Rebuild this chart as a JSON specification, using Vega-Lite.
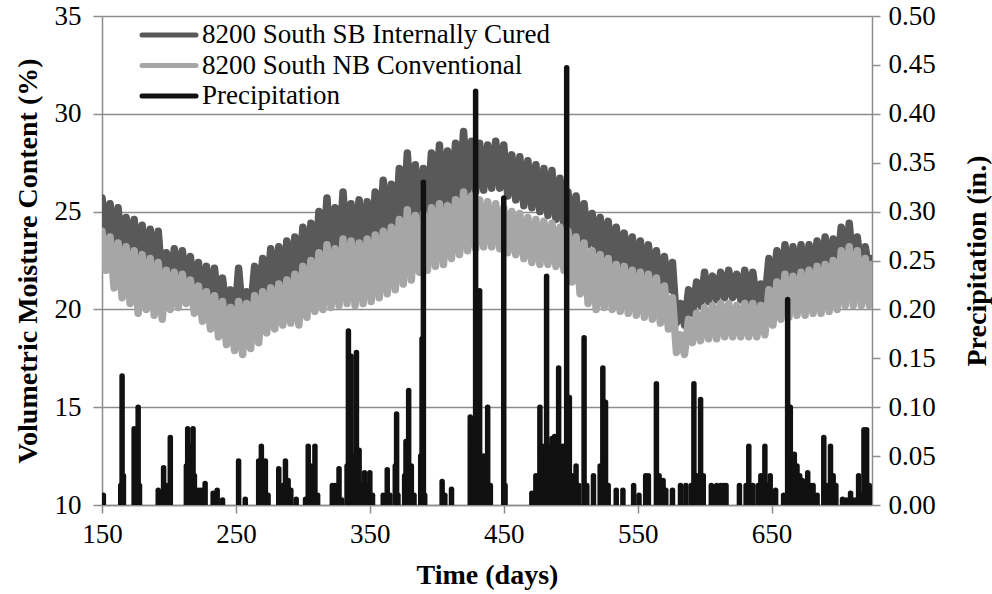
{
  "$schema": "https://vega.github.io/schema/vega-lite/v6.json",
  "width": 770,
  "height": 489,
  "autosize": {"type": "none"},
  "padding": {"left": 102, "top": 16, "right": 120, "bottom": 89},
  "background": "white",
  "config": {
    "view": {"stroke": null},
    "font": "Liberation Serif",
    "text": {"font": "Liberation Serif"},
    "style": {"guide-label": {"font": "Liberation Serif"}, "guide-title": {"font": "Liberation Serif"}},
    "axis": {"labelFont": "Liberation Serif", "titleFont": "Liberation Serif", "labelColor": "black", "titleColor": "black", "labelFontSize": 27, "titleFontSize": 28, "titleFontWeight": "bold", "domainColor": "#8c8c8c", "tickColor": "#8c8c8c", "gridColor": "#8c8c8c", "domainWidth": 1.5, "tickWidth": 1.5, "gridWidth": 1.5},
    "legend": {"labelFont": "Liberation Serif", "labelFontSize": 27, "labelColor": "black", "titleFont": "Liberation Serif"}
  },
  "datasets": {
    "moisture": [
      {"d":150,"sb":25.7,"nb":24.0},{"d":153,"sb":23.8,"nb":22.0},{"d":156,"sb":25.4,"nb":23.7},{"d":159,"sb":23.4,"nb":21.1},{"d":162,"sb":25.2,"nb":23.4},{"d":165,"sb":23.0,"nb":20.6},{"d":168,"sb":24.7,"nb":23.2},{"d":171,"sb":22.8,"nb":20.3},{"d":174,"sb":24.6,"nb":23.0},{"d":177,"sb":22.4,"nb":19.8},
      {"d":180,"sb":24.3,"nb":22.8},{"d":183,"sb":22.3,"nb":20.0},{"d":186,"sb":24.1,"nb":22.6},{"d":189,"sb":22.0,"nb":19.7},{"d":192,"sb":24.0,"nb":22.4},{"d":195,"sb":21.3,"nb":19.5},{"d":198,"sb":22.9,"nb":22.0},{"d":201,"sb":21.2,"nb":20.0},{"d":204,"sb":23.1,"nb":21.9},{"d":207,"sb":21.3,"nb":20.1},
      {"d":210,"sb":23.0,"nb":21.8},{"d":213,"sb":21.2,"nb":20.3},{"d":216,"sb":22.7,"nb":21.5},{"d":219,"sb":20.9,"nb":19.8},{"d":222,"sb":22.4,"nb":21.2},{"d":225,"sb":20.6,"nb":19.4},{"d":228,"sb":22.2,"nb":20.9},{"d":231,"sb":20.4,"nb":19.0},{"d":234,"sb":22.1,"nb":20.7},{"d":237,"sb":20.0,"nb":18.6},
      {"d":240,"sb":21.6,"nb":20.4},{"d":243,"sb":19.8,"nb":18.2},{"d":246,"sb":21.0,"nb":20.1},{"d":249,"sb":19.4,"nb":17.9},{"d":252,"sb":22.1,"nb":20.4},{"d":255,"sb":19.7,"nb":17.7},{"d":258,"sb":20.9,"nb":20.3},{"d":261,"sb":20.0,"nb":18.0},{"d":264,"sb":22.2,"nb":20.7},{"d":267,"sb":20.3,"nb":18.3},
      {"d":270,"sb":22.6,"nb":20.9},{"d":273,"sb":20.6,"nb":18.8},{"d":276,"sb":23.1,"nb":21.1},{"d":279,"sb":20.9,"nb":19.0},{"d":282,"sb":23.2,"nb":21.3},{"d":285,"sb":21.0,"nb":19.2},{"d":288,"sb":23.5,"nb":21.5},{"d":291,"sb":21.2,"nb":19.3},{"d":294,"sb":23.7,"nb":21.8},{"d":297,"sb":21.3,"nb":19.2},
      {"d":300,"sb":24.2,"nb":22.2},{"d":303,"sb":21.6,"nb":19.6},{"d":306,"sb":24.4,"nb":22.5},{"d":309,"sb":21.9,"nb":19.9},{"d":312,"sb":25.0,"nb":22.9},{"d":315,"sb":22.3,"nb":20.0},{"d":318,"sb":25.7,"nb":23.3},{"d":321,"sb":22.5,"nb":20.1},{"d":324,"sb":25.2,"nb":23.1},{"d":327,"sb":22.6,"nb":20.2},
      {"d":330,"sb":26.0,"nb":23.6},{"d":333,"sb":22.9,"nb":20.3},{"d":336,"sb":25.4,"nb":23.5},{"d":339,"sb":23.0,"nb":20.2},{"d":342,"sb":25.6,"nb":23.4},{"d":345,"sb":22.6,"nb":20.3},{"d":348,"sb":25.5,"nb":23.6},{"d":351,"sb":22.5,"nb":20.4},{"d":354,"sb":26.0,"nb":23.8},{"d":357,"sb":23.0,"nb":20.6},
      {"d":360,"sb":26.6,"nb":24.0},{"d":363,"sb":23.4,"nb":20.8},{"d":366,"sb":26.4,"nb":24.2},{"d":369,"sb":23.6,"nb":21.0},{"d":372,"sb":27.2,"nb":24.6},{"d":375,"sb":24.2,"nb":21.3},{"d":378,"sb":28.0,"nb":25.1},{"d":381,"sb":24.4,"nb":21.5},{"d":384,"sb":27.4,"nb":24.8},{"d":387,"sb":24.5,"nb":21.9},
      {"d":390,"sb":27.2,"nb":24.9},{"d":393,"sb":24.8,"nb":22.0},{"d":396,"sb":28.0,"nb":25.2},{"d":399,"sb":25.1,"nb":22.2},{"d":402,"sb":28.4,"nb":25.4},{"d":405,"sb":25.3,"nb":22.3},{"d":408,"sb":28.1,"nb":25.3},{"d":411,"sb":25.5,"nb":22.6},{"d":414,"sb":28.5,"nb":25.6},{"d":417,"sb":25.8,"nb":22.8},
      {"d":420,"sb":29.1,"nb":26.0},{"d":423,"sb":26.0,"nb":23.0},{"d":426,"sb":28.6,"nb":25.8},{"d":429,"sb":26.0,"nb":23.1},{"d":432,"sb":28.5,"nb":25.6},{"d":435,"sb":26.1,"nb":23.2},{"d":438,"sb":28.4,"nb":25.5},{"d":441,"sb":26.2,"nb":23.2},{"d":444,"sb":28.6,"nb":25.4},{"d":447,"sb":26.2,"nb":23.1},
      {"d":450,"sb":28.4,"nb":25.2},{"d":453,"sb":25.8,"nb":22.9},{"d":456,"sb":27.9,"nb":25.0},{"d":459,"sb":25.6,"nb":22.8},{"d":462,"sb":27.8,"nb":24.9},{"d":465,"sb":25.3,"nb":22.6},{"d":468,"sb":27.6,"nb":24.7},{"d":471,"sb":25.2,"nb":22.4},{"d":474,"sb":27.4,"nb":24.6},{"d":477,"sb":25.0,"nb":22.3},
      {"d":480,"sb":27.2,"nb":24.5},{"d":483,"sb":24.8,"nb":22.3},{"d":486,"sb":27.1,"nb":24.4},{"d":489,"sb":24.6,"nb":22.2},{"d":492,"sb":26.7,"nb":24.2},{"d":495,"sb":24.2,"nb":22.0},{"d":498,"sb":26.0,"nb":24.0},{"d":501,"sb":23.8,"nb":21.4},{"d":504,"sb":25.8,"nb":23.7},{"d":507,"sb":23.5,"nb":20.8},
      {"d":510,"sb":25.4,"nb":23.4},{"d":513,"sb":23.3,"nb":20.3},{"d":516,"sb":24.9,"nb":23.0},{"d":519,"sb":23.0,"nb":20.0},{"d":522,"sb":24.7,"nb":22.8},{"d":525,"sb":22.8,"nb":20.1},{"d":528,"sb":24.5,"nb":22.6},{"d":531,"sb":22.5,"nb":20.0},{"d":534,"sb":24.2,"nb":22.3},{"d":537,"sb":22.3,"nb":19.9},
      {"d":540,"sb":23.9,"nb":22.2},{"d":543,"sb":22.0,"nb":19.8},{"d":546,"sb":23.7,"nb":22.0},{"d":549,"sb":21.8,"nb":19.7},{"d":552,"sb":23.5,"nb":21.9},{"d":555,"sb":21.6,"nb":19.6},{"d":558,"sb":23.3,"nb":21.8},{"d":561,"sb":21.5,"nb":19.5},{"d":564,"sb":23.0,"nb":21.6},{"d":567,"sb":21.2,"nb":19.3},
      {"d":570,"sb":22.7,"nb":21.2},{"d":573,"sb":21.0,"nb":19.0},{"d":576,"sb":22.4,"nb":20.6},{"d":579,"sb":19.3,"nb":17.8},{"d":582,"sb":20.3,"nb":18.7},{"d":585,"sb":19.2,"nb":17.7},{"d":588,"sb":21.0,"nb":19.5},{"d":591,"sb":19.8,"nb":18.3},{"d":594,"sb":21.4,"nb":19.8},{"d":597,"sb":20.2,"nb":18.4},
      {"d":600,"sb":21.9,"nb":20.1},{"d":603,"sb":20.4,"nb":18.5},{"d":606,"sb":21.7,"nb":20.2},{"d":609,"sb":20.5,"nb":18.5},{"d":612,"sb":21.9,"nb":20.3},{"d":615,"sb":20.6,"nb":18.6},{"d":618,"sb":22.0,"nb":20.3},{"d":621,"sb":20.6,"nb":18.6},{"d":624,"sb":21.8,"nb":20.2},{"d":627,"sb":20.5,"nb":18.6},
      {"d":630,"sb":22.0,"nb":20.3},{"d":633,"sb":20.4,"nb":18.6},{"d":636,"sb":21.9,"nb":20.3},{"d":639,"sb":20.3,"nb":18.6},{"d":642,"sb":21.3,"nb":20.2},{"d":645,"sb":20.4,"nb":18.7},{"d":648,"sb":22.6,"nb":21.0},{"d":651,"sb":20.9,"nb":19.2},{"d":654,"sb":23.0,"nb":21.4},{"d":657,"sb":21.2,"nb":19.5},
      {"d":660,"sb":23.3,"nb":21.8},{"d":663,"sb":21.3,"nb":19.6},{"d":666,"sb":23.2,"nb":21.7},{"d":669,"sb":21.4,"nb":19.7},{"d":672,"sb":23.3,"nb":21.9},{"d":675,"sb":21.4,"nb":19.7},{"d":678,"sb":23.3,"nb":22.0},{"d":681,"sb":21.5,"nb":19.8},{"d":684,"sb":23.5,"nb":22.2},{"d":687,"sb":21.7,"nb":19.8},
      {"d":690,"sb":23.7,"nb":22.3},{"d":693,"sb":21.8,"nb":19.9},{"d":696,"sb":23.6,"nb":22.5},{"d":699,"sb":22.0,"nb":20.0},{"d":702,"sb":24.2,"nb":23.0},{"d":705,"sb":22.1,"nb":20.2},{"d":708,"sb":24.4,"nb":23.2},{"d":711,"sb":22.0,"nb":20.2},{"d":714,"sb":23.7,"nb":23.0},{"d":717,"sb":21.9,"nb":20.2},
      {"d":720,"sb":23.2,"nb":22.6},{"d":723,"sb":21.8,"nb":20.2},{"d":725,"sb":22.6,"nb":22.3}
    ],
    "precip": [
      {"d":151,"p":0.01},{"d":164,"p":0.02},{"d":165,"p":0.132},{"d":166,"p":0.03},{"d":174,"p":0.078},{"d":175,"p":0.03},{"d":177,"p":0.10},{"d":178,"p":0.02},
      {"d":192,"p":0.015},{"d":196,"p":0.038},{"d":198,"p":0.02},{"d":201,"p":0.069},{"d":213,"p":0.04},{"d":214,"p":0.078},{"d":216,"p":0.06},{"d":218,"p":0.078},{"d":219,"p":0.03},
      {"d":222,"p":0.015},{"d":224,"p":0.015},{"d":227,"p":0.022},{"d":233,"p":0.012},{"d":236,"p":0.015},{"d":240,"p":0.005},{"d":252,"p":0.045},{"d":257,"p":0.006},
      {"d":267,"p":0.045},{"d":269,"p":0.06},{"d":272,"p":0.045},{"d":274,"p":0.01},{"d":282,"p":0.037},{"d":285,"p":0.02},{"d":287,"p":0.045},{"d":289,"p":0.025},{"d":291,"p":0.015},{"d":295,"p":0.006},
      {"d":302,"p":0.006},{"d":304,"p":0.06},{"d":306,"p":0.04},{"d":309,"p":0.06},{"d":311,"p":0.01},{"d":322,"p":0.02},{"d":324,"p":0.02},{"d":327,"p":0.037},{"d":329,"p":0.005},
      {"d":333,"p":0.04},{"d":334,"p":0.178},{"d":336,"p":0.152},{"d":338,"p":0.05},{"d":340,"p":0.156},{"d":342,"p":0.056},{"d":344,"p":0.02},{"d":346,"p":0.033},{"d":348,"p":0.02},{"d":350,"p":0.033},{"d":352,"p":0.01},
      {"d":360,"p":0.01},{"d":363,"p":0.036},{"d":365,"p":0.01},{"d":369,"p":0.04},{"d":370,"p":0.093},{"d":371,"p":0.01},{"d":376,"p":0.03},{"d":377,"p":0.065},{"d":379,"p":0.117},{"d":381,"p":0.04},{"d":383,"p":0.01},
      {"d":388,"p":0.05},{"d":389,"p":0.17},{"d":390,"p":0.33},{"d":391,"p":0.01},{"d":404,"p":0.024},{"d":406,"p":0.01},{"d":411,"p":0.016},
      {"d":425,"p":0.09},{"d":427,"p":0.06},{"d":429,"p":0.423},{"d":431,"p":0.05},{"d":432,"p":0.219},{"d":434,"p":0.04},{"d":435,"p":0.05},{"d":438,"p":0.10},{"d":440,"p":0.02},
      {"d":450,"p":0.314},{"d":451,"p":0.02},{"d":471,"p":0.012},{"d":474,"p":0.03},{"d":477,"p":0.10},{"d":479,"p":0.06},{"d":481,"p":0.05},{"d":482,"p":0.234},{"d":484,"p":0.06},{"d":486,"p":0.068},{"d":488,"p":0.07},{"d":490,"p":0.04},
      {"d":491,"p":0.14},{"d":493,"p":0.05},{"d":494,"p":0.06},{"d":495,"p":0.03},{"d":497,"p":0.447},{"d":499,"p":0.11},{"d":501,"p":0.03},{"d":504,"p":0.04},{"d":506,"p":0.02},
      {"d":510,"p":0.171},{"d":512,"p":0.02},{"d":517,"p":0.03},{"d":522,"p":0.04},{"d":524,"p":0.14},{"d":526,"p":0.105},{"d":528,"p":0.02},
      {"d":534,"p":0.015},{"d":539,"p":0.015},{"d":547,"p":0.02},{"d":551,"p":0.01},{"d":556,"p":0.03},{"d":558,"p":0.03},{"d":564,"p":0.124},{"d":566,"p":0.03},{"d":569,"p":0.025},{"d":571,"p":0.015},
      {"d":576,"p":0.015},{"d":582,"p":0.02},{"d":586,"p":0.02},{"d":590,"p":0.02},{"d":592,"p":0.124},{"d":594,"p":0.03},{"d":597,"p":0.108},{"d":599,"p":0.03},
      {"d":605,"p":0.02},{"d":609,"p":0.02},{"d":612,"p":0.02},{"d":614,"p":0.02},{"d":616,"p":0.02},{"d":626,"p":0.02},{"d":631,"p":0.02},{"d":633,"p":0.06},{"d":636,"p":0.02},{"d":640,"p":0.02},{"d":642,"p":0.03},{"d":645,"p":0.06},{"d":647,"p":0.02},{"d":649,"p":0.03},{"d":653,"p":0.015},
      {"d":659,"p":0.01},{"d":662,"p":0.21},{"d":664,"p":0.10},{"d":666,"p":0.03},{"d":667,"p":0.052},{"d":669,"p":0.04},{"d":671,"p":0.03},{"d":673,"p":0.025},{"d":675,"p":0.01},{"d":677,"p":0.033},{"d":679,"p":0.02},{"d":681,"p":0.02},
      {"d":684,"p":0.01},{"d":689,"p":0.069},{"d":691,"p":0.02},{"d":694,"p":0.06},{"d":696,"p":0.03},{"d":698,"p":0.02},{"d":703,"p":0.006},{"d":706,"p":0.005},{"d":709,"p":0.012},{"d":712,"p":0.005},{"d":715,"p":0.03},{"d":717,"p":0.01},{"d":719,"p":0.077},{"d":721,"p":0.077},{"d":723,"p":0.02}
    ]
  },
  "encoding": {
    "x": {"field": "d", "type": "quantitative", "scale": {"domain": [150, 725], "nice": false, "zero": false},
      "axis": {"title": "Time (days)", "values": [150, 250, 350, 450, 550, 650], "grid": false, "tickSize": 8, "labelPadding": 8, "titlePadding": 14, "labelFlush": false}}
  },
  "layer": [
    {
      "data": {"name": "moisture"},
      "layer": [
        {"mark": {"type": "line", "strokeWidth": 7.5, "strokeJoin": "round", "strokeCap": "round", "clip": true},
          "encoding": {"y": {"field": "sb", "type": "quantitative"},
            "color": {"datum": "8200 South SB Internally Cured",
              "scale": {"domain": ["8200 South SB Internally Cured", "8200 South NB Conventional", "Precipitation"], "range": ["#595959", "#a6a6a6", "#111111"]},
              "legend": {"orient": "none", "legendX": 51, "legendY": 3, "title": null, "padding": 0, "symbolType": "M-2,0H2", "symbolSize": 729, "symbolStrokeWidth": 5, "labelOffset": 17, "rowPadding": 1.5, "labelFont": "Liberation Serif", "labelFontSize": 27, "labelColor": "black", "labelLimit": 500,
                "encode": {"labels": {"enter": {"font": {"value": "Liberation Serif"}}, "update": {"font": {"value": "Liberation Serif"}, "fontSize": {"value": 27}, "fontWeight": {"value": "normal"}}}, "symbols": {"update": {"strokeCap": {"value": "round"}}}}}}}},
        {"mark": {"type": "line", "strokeWidth": 7.5, "strokeJoin": "round", "strokeCap": "round", "clip": true},
          "encoding": {"y": {"field": "nb", "type": "quantitative"}, "color": {"datum": "8200 South NB Conventional", "legend": {"labelFont": "Liberation Serif"}}}}
      ],
      "encoding": {
        "y": {"type": "quantitative", "scale": {"domain": [10, 35], "nice": false, "zero": false},
          "axis": {"title": "Volumetric Moisture Content (%)", "values": [10, 15, 20, 25, 30, 35], "grid": true, "tickSize": 9, "labelPadding": 12, "titlePadding": 12, "orient": "left"}}
      }
    },
    {
      "data": {"name": "precip"},
      "layer": [
        {"mark": {"type": "rule", "strokeWidth": 5.5, "strokeCap": "round", "clip": true},
          "encoding": {"y": {"field": "p", "type": "quantitative"}, "y2": {"datum": 0}, "color": {"datum": "Precipitation", "legend": {"labelFont": "Liberation Serif"}}}},
        {"mark": {"type": "rule", "strokeWidth": 5, "color": "#111111"},
          "encoding": {"y": {"datum": 0, "type": "quantitative"}}}
      ],
      "encoding": {
        "y": {"type": "quantitative", "scale": {"domain": [0, 0.5], "nice": false},
          "axis": {"title": "Precipitation (in.)", "orient": "right", "values": [0, 0.05, 0.1, 0.15, 0.2, 0.25, 0.3, 0.35, 0.4, 0.45, 0.5], "format": ".2f", "grid": false, "tickSize": 8, "labelPadding": 8, "titlePadding": 28, "titleAngle": 270, "titleBaseline": "top"}}
      }
    }
  ],
  "resolve": {"scale": {"y": "independent"}}
}
